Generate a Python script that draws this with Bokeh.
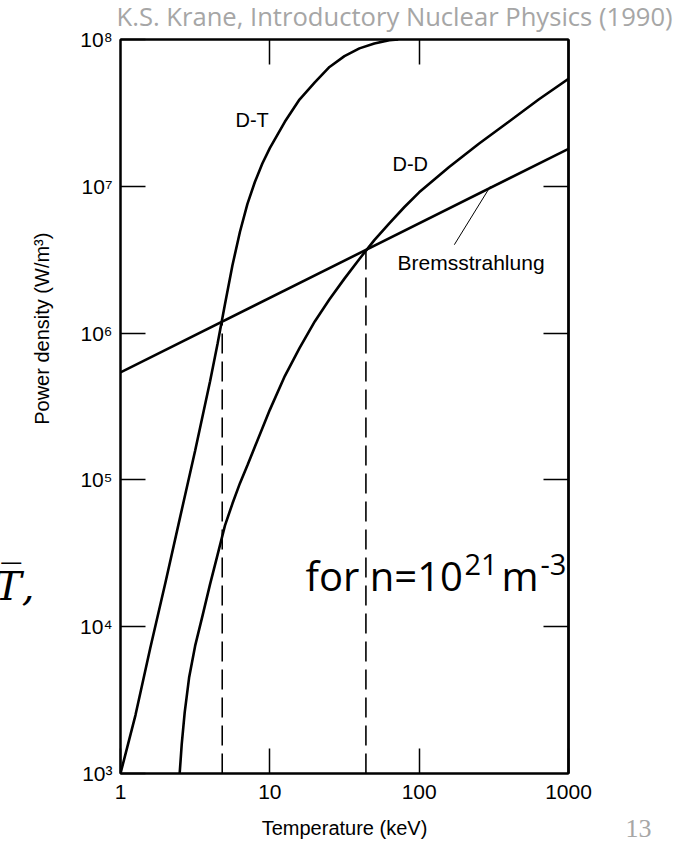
from bokeh.plotting import figure
from bokeh.models import Range1d, FixedTicker, LogAxis, Label
from bokeh.embed import file_html
from bokeh.resources import INLINE

# ---- values (temperature in keV, power density in W/m^3) ----
dt_T = [1.0, 1.26, 1.58, 2.0, 2.51, 3.16, 3.98, 4.47, 5.01, 5.62, 6.31, 7.08, 7.94, 8.91,
        10.0, 12.6, 15.8, 20.0, 25.1, 31.6, 39.8, 50.1, 63.1, 72.4]
dt_P = [1.0e3, 2.5e3, 7.1e3, 2.0e4, 5.6e4, 1.58e5, 4.7e5, 8.5e5, 1.58e6, 2.9e6, 4.9e6, 7.6e6, 1.07e7, 1.43e7,
        1.82e7, 2.75e7, 3.9e7, 5.1e7, 6.5e7, 7.7e7, 8.7e7, 9.4e7, 9.9e7, 1.0e8]

dd_T = [2.49, 2.57, 2.69, 2.88, 3.16, 3.55, 3.98, 4.47, 5.01, 5.62, 6.31, 7.08, 7.94,
        10.0, 12.6, 15.8, 20.0, 25.1, 31.6, 39.8, 50.1, 63.1, 79.4, 100, 158, 251, 398, 631, 1000]
dd_P = [1.0e3, 1.58e3, 2.6e3, 4.5e3, 7.4e3, 1.2e4, 1.95e4, 3.1e4, 4.9e4, 6.9e4, 9.5e4, 1.26e5, 1.68e5,
        3.0e5, 5.1e5, 7.9e5, 1.2e6, 1.7e6, 2.35e6, 3.2e6, 4.3e6, 5.6e6, 7.2e6, 9.1e6, 1.35e7, 1.95e7,
        2.75e7, 3.9e7, 5.4e7]

br_T = [1, 1000]
br_P = [5.4e5, 1.8e7]

cross_T = [4.8, 44]          # crossings with Bremsstrahlung
cross_P = [1.2e6, 3.6e6]

lead_T = [172, 300]          # pointer line to the Bremsstrahlung label
lead_P = [4.0e6, 1.0e7]

x_ticks = [1, 10, 100, 1000]
x_tick_labels = ["1", "10", "100", "1000"]
y_ticks = [1e3, 1e4, 1e5, 1e6, 1e7, 1e8]
y_tick_labels = ["10³", "10⁴", "10⁵", "10⁶", "10⁷", "10⁸"]
inner_x_ticks = [10, 100]
inner_y_ticks = [1e4, 1e5, 1e6, 1e7]

x_title = "Temperature (keV)"
y_title = "Power density (W/m³)"
source_note = "K.S. Krane, Introductory Nuclear Physics (1990)"
slide_no = "13"
slide_fragment = "T\u0305,"

# ---- layout (page pixels of the plot frame) ----
W, H = 674, 842
FL, FR, FT, FB = 120, 568, 39, 773


def dx(px):
    return 10 ** ((px - FL) / ((FR - FL) / 3.0))


def dy(py):
    return 10 ** (3 + (FB - py) / ((FB - FT) / 5.0))


p = figure(width=W, height=H, x_axis_type="log", y_axis_type="log",
           x_range=Range1d(1, 1000), y_range=Range1d(1e3, 1e8),
           output_backend="svg", toolbar_location=None, title=None,
           min_border_left=FL, min_border_right=W - FR,
           min_border_top=FT, min_border_bottom=H - FB)
p.background_fill_color = "white"
p.border_fill_color = "white"
p.outline_line_color = "black"
p.outline_line_width = 2
p.xgrid.visible = False
p.ygrid.visible = False

FONT = "Liberation Sans"

xa = p.xaxis[0]
xa.ticker = FixedTicker(ticks=x_ticks, minor_ticks=[])
xa.major_label_overrides = {t: s for t, s in zip(x_ticks, x_tick_labels)}
ya = p.yaxis[0]
ya.ticker = FixedTicker(ticks=y_ticks, minor_ticks=[])
ya.major_label_overrides = {t: s for t, s in zip(y_ticks, y_tick_labels)}

top = LogAxis(ticker=FixedTicker(ticks=inner_x_ticks, minor_ticks=[]))
right = LogAxis(ticker=FixedTicker(ticks=inner_y_ticks, minor_ticks=[]))
p.add_layout(top, "above")
p.add_layout(right, "right")

for ax in (xa, ya, top, right):
    ax.axis_line_color = "black"
    ax.axis_line_width = 2
    ax.major_tick_in = 25
    ax.major_tick_out = 0
    ax.major_tick_line_width = 1.5
    ax.major_tick_line_color = "black"
    ax.minor_tick_line_color = None
    ax.major_label_text_font = FONT
    ax.major_label_text_color = "black"
    ax.axis_label_text_font = FONT
    ax.axis_label_text_font_style = "normal"
    ax.axis_label_text_color = "black"
for ax in (top, right):
    ax.major_label_text_font_size = "1px"
    ax.major_label_text_alpha = 0
    ax.major_label_standoff = 0
right.axis_line_width = 2.6
xa.major_label_text_font_size = "21px"
xa.major_label_standoff = 11
ya.major_label_text_font_size = "21px"
ya.major_label_standoff = 8

# axis titles (the y title sits above the frame centre, as in the source figure)
xa.axis_label = x_title
xa.axis_label_text_font_size = "20px"
xa.axis_label_standoff = 15
ya.axis_label = "\u00a0" * 28 + y_title
ya.axis_label_text_font_size = "20px"
ya.axis_label_standoff = 24

# ---- curves ----
p.line(dt_T, dt_P, line_color="black", line_width=2.6)
p.line(dd_T, dd_P, line_color="black", line_width=2.6)
p.line(br_T, br_P, line_color="black", line_width=2.6)
p.segment(x0=cross_T, y0=[1e3] * len(cross_T), x1=cross_T, y1=cross_P,
          line_color="black", line_width=1.6, line_dash="20 8")
p.line(lead_T, lead_P, line_color="black", line_width=1)


def lab(text, px, py, size, font=FONT, align="left", color="black"):
    """Text inside the frame; (px, py) is the page position of the text's vertical middle."""
    p.add_layout(Label(x=dx(px), y=dy(py), text=text, text_font=font,
                       text_font_size=f"{size}px", text_align=align,
                       text_baseline="middle", text_color=color))


# curve labels
lab("D-T", 235, 119, 20)
lab("D-D", 392, 163, 20)
lab("Bremsstrahlung", 397, 262, 21)

# density note (main text and raised exponents)
lab("for n=10", 305, 575, 40, font="Open Sans")
lab("21", 464, 564, 29, font="Open Sans")
lab("m", 501, 575, 40, font="Open Sans")
lab("-3", 540, 564, 29, font="Open Sans")

# slide text around the figure: side-panel labels (screen units relative to their panel)
p.add_layout(Label(x=116 - FL, y=23, x_units="screen", y_units="screen",
                   text=source_note, text_font="Open Sans", text_font_size="25.6px",
                   text_color="#a6a6a6", text_baseline="middle"), "above")
p.add_layout(Label(x=627 - 570, y=FB - 828, x_units="screen", y_units="screen",
                   text=slide_no, text_font="Liberation Serif", text_font_size="26px",
                   text_color="#a6a6a6", text_baseline="middle"), "right")
p.add_layout(Label(x=40 - 600, y=FB - 585, x_units="screen", y_units="screen",
                   text=slide_fragment, text_font="DejaVu Serif", text_font_size="40px",
                   text_font_style="italic", text_color="black", text_align="right",
                   text_baseline="middle"), "right")

open("out.html", "w").write(file_html(p, INLINE))
